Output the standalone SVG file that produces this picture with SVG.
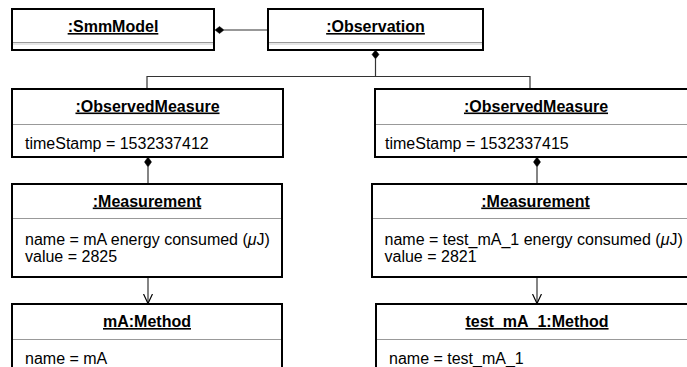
<svg xmlns="http://www.w3.org/2000/svg" width="687" height="367" viewBox="0 0 687 367">
<style>
.box{fill:#fff;stroke:#000;stroke-width:2}
.sep{stroke:#999;stroke-width:1}
.sep2{stroke:#ccc;stroke-width:1}
.t{font-family:"Liberation Sans",Arial,Helvetica,sans-serif;font-size:16px;font-weight:bold;text-anchor:middle;text-decoration:underline;fill:#000}
.a{font-family:"Liberation Sans",Arial,Helvetica,sans-serif;font-size:16px;fill:#000}
.c{fill:none;stroke:#333;stroke-width:1.2}
.d{fill:#000;stroke:#000;stroke-width:0.5}
</style>
<defs>
<marker id="open" viewBox="0 0 10 10" refX="9.5" refY="5" markerWidth="10" markerHeight="10" markerUnits="userSpaceOnUse" orient="auto">
<path d="M0,0.5 L9.5,5 L0,9.5" fill="none" stroke="#000" stroke-width="1.2"/>
</marker>
</defs>
<g id="connectors">
<line class="c" x1="224" y1="30" x2="268" y2="30"/>
<polygon class="d" points="215,30 219.5,26.5 224,30 219.5,33.5"/>
<polyline class="c" points="375.5,59 375.5,76.5"/>
<polyline class="c" points="147,89 147,76.5 530,76.5 530,89"/>
<polygon class="d" points="375.5,50 379,54.5 375.5,59 372,54.5"/>
<line class="c" x1="148" y1="167" x2="148" y2="183"/>
<polygon class="d" points="148,157 151.5,162 148,167 144.5,162"/>
<line class="c" x1="537" y1="167" x2="537" y2="183"/>
<polygon class="d" points="537,157 540.5,162 537,167 533.5,162"/>
<line class="c" x1="148" y1="277" x2="148" y2="303.5" marker-end="url(#open)"/>
<line class="c" x1="537" y1="277" x2="537" y2="303.5" marker-end="url(#open)"/>
</g>
<g id="smmModel">
<rect class="box" x="12" y="9" width="202" height="41"/>
<line class="sep" x1="13" y1="42.5" x2="213" y2="42.5"/>
<line class="sep2" x1="13" y1="44" x2="213" y2="44"/>
<text class="t" x="113" y="32">:SmmModel</text>
</g>
<g id="observation">
<rect class="box" x="268" y="9" width="215" height="41"/>
<line class="sep" x1="269" y1="42.5" x2="482" y2="42.5"/>
<line class="sep2" x1="269" y1="44" x2="482" y2="44"/>
<text class="t" x="375.5" y="32">:Observation</text>
</g>
<g id="observedMeasure1">
<rect class="box" x="12" y="89" width="271" height="68"/>
<line class="sep" x1="13" y1="124.5" x2="282" y2="124.5"/>
<text class="t" x="147.5" y="111.5">:ObservedMeasure</text>
<text class="a" x="25" y="148.5">timeStamp = 1532337412</text>
</g>
<g id="observedMeasure2">
<rect class="box" x="375" y="89" width="322" height="68"/>
<line class="sep" x1="376" y1="124.5" x2="696" y2="124.5"/>
<text class="t" x="536" y="111.5">:ObservedMeasure</text>
<text class="a" x="385" y="148.5">timeStamp = 1532337415</text>
</g>
<g id="measurement1">
<rect class="box" x="12" y="184" width="270" height="93"/>
<line class="sep" x1="13" y1="218.5" x2="281" y2="218.5"/>
<text class="t" x="147" y="206.5">:Measurement</text>
<text class="a" x="25" y="244.5">name = mA energy consumed (<tspan font-style="italic">μ</tspan>J)</text>
<text class="a" x="25" y="262">value = 2825</text>
</g>
<g id="measurement2">
<rect class="box" x="372" y="184" width="326" height="93"/>
<line class="sep" x1="373" y1="218.5" x2="697" y2="218.5"/>
<text class="t" x="535.5" y="206.5">:Measurement</text>
<text class="a" x="384.5" y="244.5">name = test_mA_1 energy consumed (<tspan font-style="italic">μ</tspan>J)</text>
<text class="a" x="384.5" y="262">value = 2821</text>
</g>
<g id="method1">
<rect class="box" x="12" y="304" width="270" height="80"/>
<line class="sep" x1="13" y1="339.5" x2="281" y2="339.5"/>
<text class="t" x="147" y="327">mA:Method</text>
<text class="a" x="25" y="363.5">name = mA</text>
</g>
<g id="method2">
<rect class="box" x="376" y="304" width="322" height="80"/>
<line class="sep" x1="377" y1="339.5" x2="697" y2="339.5"/>
<text class="t" x="537" y="327">test_mA_1:Method</text>
<text class="a" x="389" y="363.5">name = test_mA_1</text>
</g>
</svg>
